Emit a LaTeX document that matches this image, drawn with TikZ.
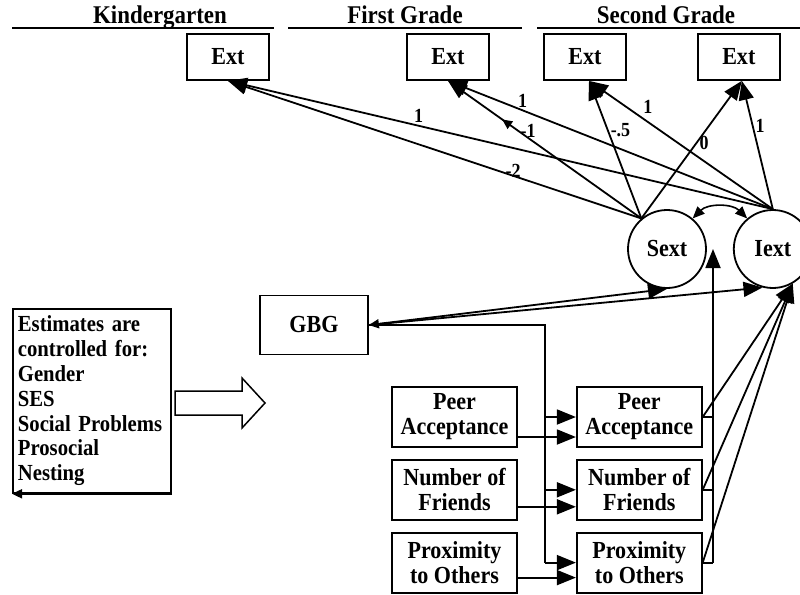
\documentclass[tikz,border=0pt]{standalone}
\usepackage{fontspec}
\setmainfont{Liberation Serif}[FakeStretch=0.9]
\usetikzlibrary{positioning, arrows.meta, calc, decorations.markings}

\begin{document}
\begin{tikzpicture}[
  x=1pt, y=-1pt,
  every node/.style={font=\fontsize{24.5}{25}\selectfont\bfseries},
  obs/.style={draw, line width=1.8pt, minimum width=125pt, minimum height=60pt,
              align=center, inner sep=2pt},
  extbox/.style={draw, line width=1.8pt, minimum width=82pt, minimum height=46pt},
  latent/.style={draw, circle, line width=1.8pt, minimum size=78pt, inner sep=0pt},
  arr/.style={-{Triangle[length=19pt, width=15pt]}, line width=1.8pt},
  dblarr/.style={{Triangle[length=12pt, width=10pt]}-{Triangle[length=12pt, width=10pt]}, line width=1.6pt},
  plain/.style={line width=1.8pt},
  lbl/.style={font=\fontsize{20}{22}\selectfont\bfseries, inner sep=2pt},
  hdr/.style={line width=2.4pt},
  hdrtxt/.style={anchor=base, font=\fontsize{25.5}{25}\selectfont\bfseries},
]
\useasboundingbox (0,0) rectangle (800,594);

% ===== GRADE HEADERS =====
\node[hdrtxt] (kg) at (160,24) {Kindergarten};
\node[hdrtxt] (fg) at (405,24) {First Grade};
\node[hdrtxt] (sg) at (666,24) {Second Grade};
\draw[hdr] (12,28) -- (274,28);
\draw[hdr] (288,28) -- (522,28);
\draw[hdr] (537,28) -- (800,28);

% ===== OBSERVED EXT (top row) =====
\node[extbox] (e0) at (228,57) {Ext};
\node[extbox] (e1) at (448,57) {Ext};
\node[extbox] (e2) at (585,57) {Ext};
\node[extbox, right=70pt of e2] (e3) {Ext};

% ===== GROWTH FACTORS =====
\node[latent] (sext) at (667,249) {Sext};
\node[latent, right=26pt of sext] (iext) {Iext};

% ===== INTERVENTION AND MEDIATORS =====
\node[obs, minimum width=108pt, minimum height=59pt] (gbg) at (314,325) {GBG};

\node[obs] (pa1) at (454.5,417) {Peer\\Acceptance};
\node[obs, below=11pt of pa1] (nf1) {Number of\\Friends};
\node[obs, below=11pt of nf1] (po1) {Proximity\\to Others};

\node[obs, right=58pt of pa1] (pa2) {Peer\\Acceptance};
\node[obs, right=58pt of nf1] (nf2) {Number of\\Friends};
\node[obs, right=58pt of po1] (po2) {Proximity\\to Others};

% ===== CONTROLS =====
\node[draw, line width=1.8pt, align=left, text width=148pt, inner xsep=5pt,
      minimum height=184pt, anchor=north west,
      font=\fontsize{23}{24.8}\selectfont\bfseries] (est) at (12,308)
  {Estimates are\\controlled for:\\Gender\\SES\\Social Problems\\Prosocial\\Nesting};
\draw[-{Triangle[length=10pt, width=9pt]}, line width=1.8pt] (est.south east) -- (est.south west);
\draw[plain, line width=1.5pt] (175,391) -- (242,391) -- (242,378) -- (265,403)
  -- (242,428) -- (242,415) -- (175,415) -- cycle;

% ===== LOADINGS ON EXT =====
\draw[arr] (iext.north) -- node[lbl, above, pos=0.65] {1} (e0.south);
\draw[arr] (sext.130) -- node[lbl, above=-5pt, pos=0.31] {-2} (e0.south);
\draw[arr] (iext.north) -- node[lbl, above, pos=0.77] {1} (e1.south);
\draw[arr, postaction={decorate}, decoration={markings,
      mark=at position 0.72 with {\arrow{Triangle[length=10pt, width=9pt]}}}]
  (sext.130) -- node[lbl, right, pos=0.64] {-1} (e1.south);
\draw[arr] (sext.130) -- node[lbl, right, pos=0.64] {-.5} ([xshift=4pt]e2.south);
\draw[arr] (iext.north) -- node[lbl, above right, pos=0.72] {1} ([xshift=4pt]e2.south);
\draw[arr] (sext.130) -- node[lbl, right, pos=0.55] {0} ([xshift=3pt]e3.south);
\draw[arr] (iext.north) -- node[lbl, right, pos=0.65] {1} ([xshift=3pt]e3.south);

% factor covariance
\draw[dblarr] (sext.50) to[bend left=45] (iext.130);

% ===== GBG PATHS =====
\draw[{Triangle[length=10pt, width=9pt]}-{Triangle[length=19pt, width=15pt]}, line width=1.8pt]
  (gbg.east) -- (sext.south);
\draw[arr] (gbg.east) -- (iext.255);

\coordinate (bus) at (545,0);
\draw[plain] (gbg.east) -- (gbg.east -| bus) -- (po2.west -| bus);
\draw[arr] (pa2.west -| bus) -- (pa2.west);
\draw[arr] (nf2.west -| bus) -- (nf2.west);
\draw[arr] (po2.west -| bus) -- (po2.west);

% baseline to follow-up
\draw[arr] ([yshift=-20pt]pa1.east) -- ([yshift=-20pt]pa1.east -| pa2.west);
\draw[arr] ([yshift=-17pt]nf1.east) -- ([yshift=-17pt]nf1.east -| nf2.west);
\draw[arr] ([yshift=-15pt]po1.east) -- ([yshift=-15pt]po1.east -| po2.west);

% ===== MEDIATORS TO GROWTH FACTORS =====
\coordinate (riser) at (713,0);
\draw[plain] (pa2.east) -- (pa2.east -| riser);
\draw[plain] (nf2.east) -- (nf2.east -| riser);
\draw[plain] (po2.east) -- (po2.east -| riser);
\draw[arr] (po2.east -| riser) -- (sext.east -| riser);
\draw[line width=2.6pt] (pa2.east -| riser) -- ([yshift=-20pt]sext.east -| riser);

\draw[arr] (pa2.east) -- (iext.300);
\draw[arr] (nf2.east) -- (iext.300);
\draw[arr] (po2.east) -- (iext.300);

\end{tikzpicture}
\end{document}
